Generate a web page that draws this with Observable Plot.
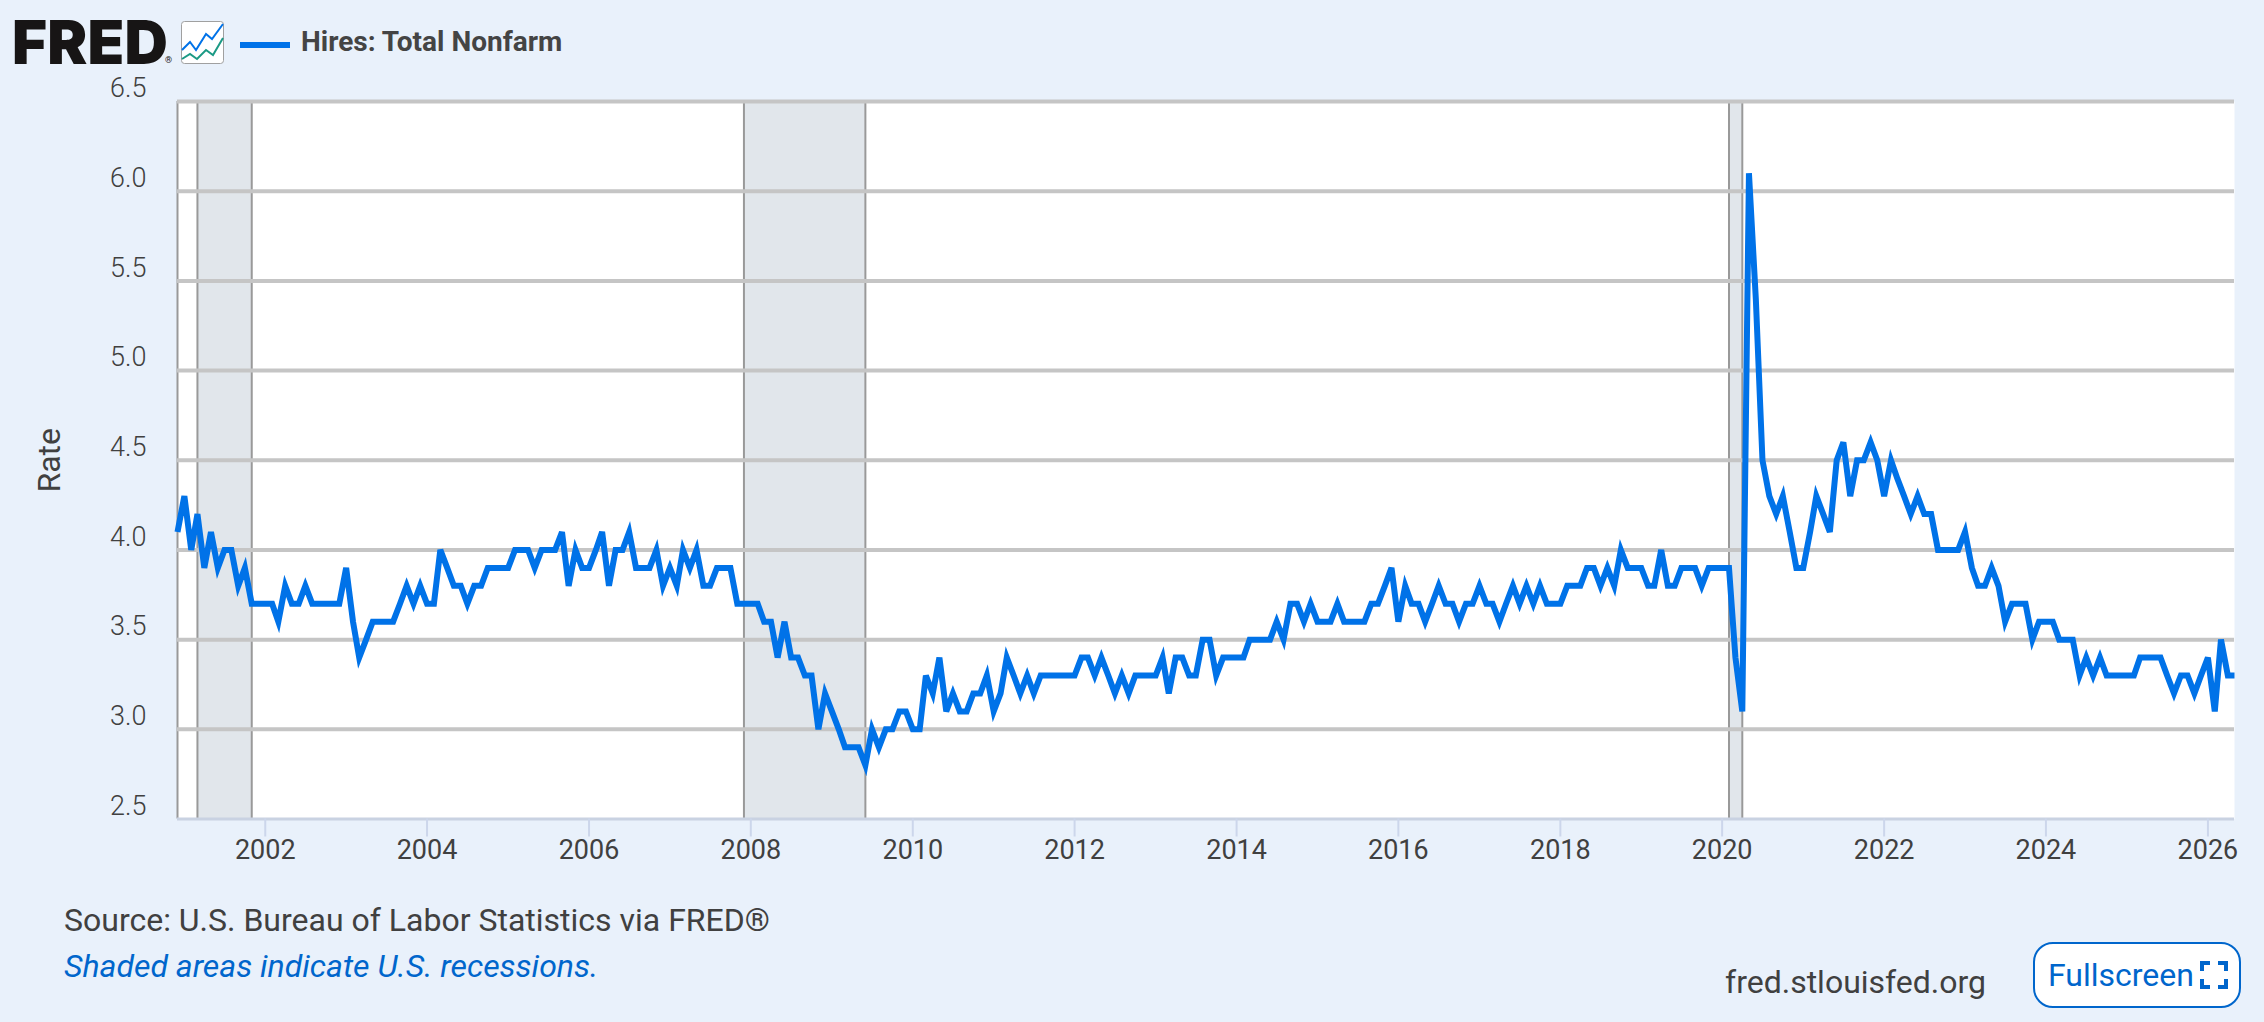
<!DOCTYPE html>
<html>
<head>
<meta charset="utf-8">
<script src="https://cdn.jsdelivr.net/npm/d3@7"></script>
<script src="https://cdn.jsdelivr.net/npm/@observablehq/plot@0.6"></script>
<style>
  html, body { margin: 0; padding: 0; background: #e9f1fb; overflow: hidden; }
  #page { position: relative; width: 2264px; height: 1022px; background: #e9f1fb; font-family: Roboto, sans-serif; color: #404040; }
  #page svg.plot-host { display: block; }
  .abs { position: absolute; white-space: nowrap; line-height: 1; }
  #logo { left: 12px; top: 12px; font-family: Inter, sans-serif; font-weight: 900; font-size: 60px; color: #171515; letter-spacing: 0.2px; }
  #reg { left: 165px; top: 56px; font-size: 9px; color: #171515; }
  #icon { left: 181px; top: 21px; }
  #key { left: 240px; top: 42px; width: 50px; height: 6px; background: #0072e8; }
  #series { left: 301px; top: 28px; font-size: 28px; font-weight: 700; color: #444; }
  #source { left: 64px; top: 904px; font-size: 32px; }
  #shaded { left: 64px; top: 950px; font-size: 32px; font-style: italic; color: #0066cc; }
  #site { left: 1725px; top: 966px; font-size: 32px; }
  #btn { left: 2033px; top: 942px; width: 208px; height: 66px; box-sizing: border-box; background: #fff; border: 2px solid #0066cc; border-radius: 20px; color: #0066cc; font-size: 32px; }
  #btn span { position: absolute; left: 13px; top: 15px; }
  #btn svg { position: absolute; left: 165px; top: 17px; }
</style>
</head>
<body>
<div id="page">
  <div class="abs" id="logo">FRED</div>
  <div class="abs" id="reg">®</div>
  <svg class="abs" id="icon" width="43" height="43" viewBox="0 0 43 43">
    <rect x="0.5" y="0.5" width="42" height="42" rx="3" fill="#fff" stroke="#a0a0a0"/>
    <polyline points="1,29 9,21 15,29 25,13 31,18 42,3" fill="none" stroke="#0072e8" stroke-width="2"/>
    <polyline points="1,38 9,33 16,38 25,29 32,34 42,17" fill="none" stroke="#1b9a85" stroke-width="2"/>
  </svg>
  <div class="abs" id="key"></div>
  <div class="abs" id="series">Hires: Total Nonfarm</div>
  <div class="abs" id="source">Source: U.S. Bureau of Labor Statistics via FRED®</div>
  <div class="abs" id="shaded">Shaded areas indicate U.S. recessions.</div>
  <div class="abs" id="site">fred.stlouisfed.org</div>
  <div class="abs" id="btn"><span>Fullscreen</span>
    <svg width="28" height="28" viewBox="0 0 28 28" fill="none" stroke="#0066cc" stroke-width="4">
      <path d="M2 10V2H10M18 2H26V10M26 18V26H18M10 26H2V18"/>
    </svg>
  </div>
</div>
<script>
const firstMonth = "2000-12-01";
const hireRates = [
  4.1,4.3,4.0,4.2,3.9,4.1,3.9,4.0,4.0,3.8,
  3.9,3.7,3.7,3.7,3.7,3.6,3.8,3.7,3.7,3.8,
  3.7,3.7,3.7,3.7,3.7,3.9,3.6,3.4,3.5,3.6,
  3.6,3.6,3.6,3.7,3.8,3.7,3.8,3.7,3.7,4.0,
  3.9,3.8,3.8,3.7,3.8,3.8,3.9,3.9,3.9,3.9,
  4.0,4.0,4.0,3.9,4.0,4.0,4.0,4.1,3.8,4.0,
  3.9,3.9,4.0,4.1,3.8,4.0,4.0,4.1,3.9,3.9,
  3.9,4.0,3.8,3.9,3.8,4.0,3.9,4.0,3.8,3.8,
  3.9,3.9,3.9,3.7,3.7,3.7,3.7,3.6,3.6,3.4,
  3.6,3.4,3.4,3.3,3.3,3.0,3.2,3.1,3.0,2.9,
  2.9,2.9,2.8,3.0,2.9,3.0,3.0,3.1,3.1,3.0,
  3.0,3.3,3.2,3.4,3.1,3.2,3.1,3.1,3.2,3.2,
  3.3,3.1,3.2,3.4,3.3,3.2,3.3,3.2,3.3,3.3,
  3.3,3.3,3.3,3.3,3.4,3.4,3.3,3.4,3.3,3.2,
  3.3,3.2,3.3,3.3,3.3,3.3,3.4,3.2,3.4,3.4,
  3.3,3.3,3.5,3.5,3.3,3.4,3.4,3.4,3.4,3.5,
  3.5,3.5,3.5,3.6,3.5,3.7,3.7,3.6,3.7,3.6,
  3.6,3.6,3.7,3.6,3.6,3.6,3.6,3.7,3.7,3.8,
  3.9,3.6,3.8,3.7,3.7,3.6,3.7,3.8,3.7,3.7,
  3.6,3.7,3.7,3.8,3.7,3.7,3.6,3.7,3.8,3.7,
  3.8,3.7,3.8,3.7,3.7,3.7,3.8,3.8,3.8,3.9,
  3.9,3.8,3.9,3.8,4.0,3.9,3.9,3.9,3.8,3.8,
  4.0,3.8,3.8,3.9,3.9,3.9,3.8,3.9,3.9,3.9,
  3.9,3.4,3.1,6.1,5.4,4.5,4.3,4.2,4.3,4.1,
  3.9,3.9,4.1,4.3,4.2,4.1,4.5,4.6,4.3,4.5,
  4.5,4.6,4.5,4.3,4.5,4.4,4.3,4.2,4.3,4.2,
  4.2,4.0,4.0,4.0,4.0,4.1,3.9,3.8,3.8,3.9,
  3.8,3.6,3.7,3.7,3.7,3.5,3.6,3.6,3.6,3.5,
  3.5,3.5,3.3,3.4,3.3,3.4,3.3,3.3,3.3,3.3,
  3.3,3.4,3.4,3.4,3.4,3.3,3.2,3.3,3.3,3.2,
  3.3,3.4,3.1,3.5,3.3,3.3
];
const recessionStarts = ["2001-03-01", "2007-12-01", "2020-02-01"];
const recessionEnds = ["2001-11-01", "2009-06-01", "2020-04-01"];
const yTicks = [2.5, 3.0, 3.5, 4.0, 4.5, 5.0, 5.5, 6.0, 6.5];
const xTickYears = [2002, 2004, 2006, 2008, 2010, 2012, 2014, 2016, 2018, 2020, 2022, 2024, 2026];
const yTitle = ["Rate"];

const start = new Date(firstMonth);
const series = hireRates.map((rate, i) => ({ date: d3.utcMonth.offset(start, i), rate }));
const lastDate = series[series.length - 1].date;
const recessions = recessionStarts.map((s, i) => ({ start: new Date(s), end: new Date(recessionEnds[i]) }));
const edges = recessions.flatMap(r => [r.start, r.end]);
const xTicks = xTickYears.map(y => new Date(Date.UTC(y, 0, 1)));

const chart = Plot.plot({
  width: 2264,
  height: 880,
  marginLeft: 177,
  marginRight: 30,
  marginTop: 101,
  marginBottom: 61.5,
  style: { background: "transparent", fontFamily: "Roboto, sans-serif", overflow: "visible" },
  x: { type: "utc", domain: [start, lastDate], label: null },
  y: { domain: [2.5, 6.5], label: null },
  marks: [
    Plot.frame({ fill: "#fff", stroke: null }),
    Plot.rectX(recessions, { x1: "start", x2: "end", fill: "#e1e6eb" }),
    Plot.ruleX(edges, { stroke: "#999", strokeWidth: 2 }),
    Plot.ruleX([start], { stroke: "#999", strokeWidth: 2 }),
    Plot.ruleY(yTicks.slice(1), { stroke: "#c5c5c5", strokeWidth: 4 }),
    Plot.ruleY([2.5], { stroke: "#c9d2e2", strokeWidth: 3 }),
    Plot.axisY({
      ticks: yTicks, tickSize: 0, tickPadding: 31, dy: -13,
      tickFormat: d3.format(".1f"), fontSize: 27, fill: "#404040", fontWeight: 300,
      label: null
    }),
    Plot.text(yTitle, {
      text: d => d, frameAnchor: "left", textAnchor: "middle", dx: -128, rotate: -90,
      fontSize: 32, fill: "#404040"
    }),
    Plot.axisX({
      ticks: xTicks, tickSize: 18, tickPadding: 3, stroke: "#ccd6eb", strokeWidth: 2,
      tickFormat: d3.utcFormat("%Y"), fontSize: 27, fill: "#404040", label: null
    }),
    Plot.line(series, {
      x: "date", y: "rate", stroke: "#0072e8", strokeWidth: 6,
      strokeLinejoin: "miter", strokeLinecap: "butt", strokeMiterlimit: 4
    })
  ]
});
chart.classList.add("plot-host");
document.getElementById("page").prepend(chart);
</script>
</body>
</html>
